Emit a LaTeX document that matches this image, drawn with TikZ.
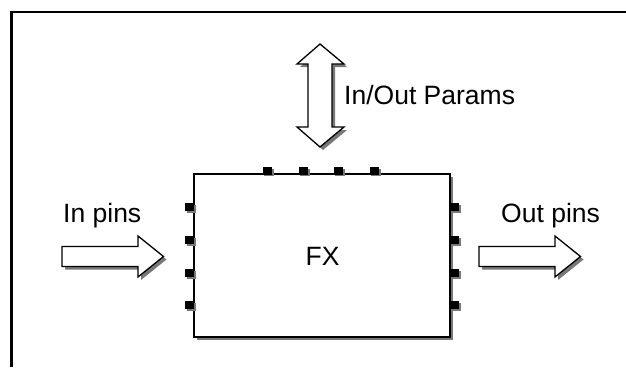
\documentclass[tikz,border=0pt]{standalone}
\usepackage{fontspec}
\setmainfont{Liberation Sans}
\definecolor{shadowgray}{RGB}{120,120,120}
\begin{document}
\begin{tikzpicture}[x=1pt,y=-1pt,
  shadowfill/.style={fill=shadowgray, draw=none},
  outline/.style={draw=black, line width=1.3pt, fill=white, line join=miter},
  pinsq/.style={fill=black, draw=none},
  lbl/.style={font=\fontsize{26.5}{31}\selectfont, inner sep=0pt}]
\useasboundingbox (0,0) rectangle (626,367);
% frame
\draw[line width=2.5pt] (626,12) -- (11.5,12) -- (11.5,367);
% box shadow and box
\fill[shadowgray] (197,177) rectangle (453,340);
\node[outline, minimum width=256pt, minimum height=163pt, inner sep=0pt, lbl] (fx) at (322,255.5) {};
\node[lbl, anchor=base] (fxl) at (322.5,265) {FX};
% pins
\foreach \c in {267,303,338,374}{
  \fill[shadowgray] (\c-3.5,169) rectangle (\c+6.5,176);
  \fill[black] (\c-4.5,167) rectangle (\c+4.5,174.5);
}
\foreach \c in {207,240,273,305}{
  \fill[shadowgray] (187,\c-2) rectangle (196,\c+6);
  \fill[black] (185,\c-4) rectangle (194,\c+4);
  \fill[shadowgray] (452,\c-2) rectangle (461,\c+6);
  \fill[black] (450,\c-4) rectangle (459,\c+4);
}
% vertical double arrow
\path[shadowfill, shift={(3,3)}] (320,44) -- (344,64) -- (332,64) -- (332,127) -- (344,127) -- (320,147) -- (297,127) -- (308,127) -- (308,64) -- (297,64) -- cycle;
\path[outline] (320,44) -- (344,64) -- (332,64) -- (332,127) -- (344,127) -- (320,147) -- (297,127) -- (308,127) -- (308,64) -- (297,64) -- cycle;
% in arrow
\path[shadowfill, shift={(3,3)}] (62,246.5) -- (138,246.5) -- (138,236) -- (163.5,256.5) -- (138,277) -- (138,266.5) -- (62,266.5) -- cycle;
\path[outline] (62,246.5) -- (138,246.5) -- (138,236) -- (163.5,256.5) -- (138,277) -- (138,266.5) -- (62,266.5) -- cycle;
% out arrow
\path[shadowfill, shift={(3,3)}] (479,246.5) -- (555,246.5) -- (555,236) -- (580.5,256.5) -- (555,277) -- (555,266.5) -- (479,266.5) -- cycle;
\path[outline] (479,246.5) -- (555,246.5) -- (555,236) -- (580.5,256.5) -- (555,277) -- (555,266.5) -- (479,266.5) -- cycle;
% labels
\node[lbl, anchor=base west] (iop) at (344,104) {In/Out Params};
\node[lbl, anchor=base west] (inp) at (63,222) {In pins};
\node[lbl, anchor=base west] (outp) at (501,222) {Out pins};
\end{tikzpicture}
\end{document}
